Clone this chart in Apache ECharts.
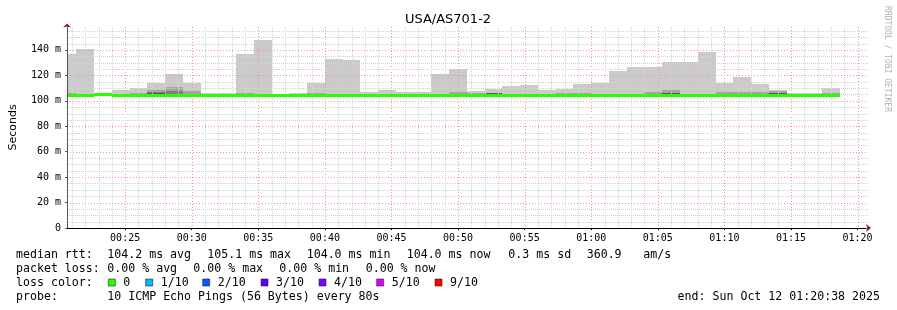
<!DOCTYPE html>
<html>
<head>
<meta charset="utf-8">
<script src="https://cdn.jsdelivr.net/npm/echarts@6.0.0/dist/echarts.min.js"></script>
<style>
html,body{margin:0;padding:0;background:#ffffff;}
#chart{width:897px;height:310px;}
</style>
</head>
<body>
<div id="chart"></div>
<script>
// ---------------- data ----------------
const chartTitle = 'USA/AS701-2';
const windowStart = '00:20:38';
const windowEnd = '01:20:38';
const binStep = 80; // seconds per probe round
const binStarts = ['00:20:00','00:21:20','00:22:40','00:24:00','00:25:20','00:26:40','00:28:00','00:29:20','00:30:40','00:32:00',
  '00:33:20','00:34:40','00:36:00','00:37:20','00:38:40','00:40:00','00:41:20','00:42:40','00:44:00','00:45:20',
  '00:46:40','00:48:00','00:49:20','00:50:40','00:52:00','00:53:20','00:54:40','00:56:00','00:57:20','00:58:40',
  '01:00:00','01:01:20','01:02:40','01:04:00','01:05:20','01:06:40','01:08:00','01:09:20','01:10:40','01:12:00',
  '01:13:20','01:14:40','01:16:00','01:17:20'];
// ms values (smoke = sorted pings, outer -> inner)
const rttMax = [137.1,140.8,106.0,108.5,110.4,114.3,121.1,114.3,106.0,105.8,
  137.0,147.9,105.2,106.4,114.2,133.0,132.1,107.0,108.8,107.0,
  107.0,121.0,125.1,107.8,109.5,111.7,112.5,108.5,109.5,113.5,
  114.2,123.6,126.6,126.6,130.6,130.6,138.7,114.1,119.0,113.3,
  108.5,106.4,106.1,110.1];
const rttP9 = [106.4,105.4,105.5,105.5,106.4,108.5,111.2,108.0,105.3,105.0,
  105.8,105.5,104.8,105.2,106.4,105.5,105.4,105.2,105.4,105.2,
  105.2,105.5,107.0,106.0,106.5,105.6,105.6,105.4,106.3,106.2,
  105.4,105.7,104.8,107.0,108.5,105.7,105.4,107.0,107.0,107.0,
  107.5,105.7,105.5,106.4];
const rttP8 = [103.8,104.5,105.1,104.0,104.0,107.0,107.6,104.0,104.0,104.0,
  104.4,104.4,104.0,104.0,104.0,104.4,104.4,104.0,104.0,104.4,
  104.4,104.0,104.0,104.0,106.0,104.0,104.0,104.0,104.4,104.4,
  104.0,104.0,104.0,104.0,106.5,105.5,104.0,104.4,104.4,104.0,
  106.3,105.5,104.0,104.0];
const rttP7 = [103.8,104.5,105.1,104.0,104.0,106.4,104.0,104.0,104.0,104.0,
  104.4,104.4,104.0,104.0,104.0,104.4,104.4,104.0,104.0,104.4,
  104.4,104.0,104.0,104.0,105.9,104.0,104.0,104.0,104.4,104.4,
  104.0,104.0,104.0,104.0,106.0,105.3,104.0,104.4,104.4,104.0,
  106.0,105.3,104.0,104.0];
const rttMin = [103.3,103.5,103.5,103.5,103.5,103.5,103.5,103.5,103.5,103.5,
  103.5,103.5,103.5,103.5,103.5,103.5,103.5,103.5,103.5,103.5,
  103.5,103.5,103.5,103.5,103.5,103.5,103.5,103.5,103.5,103.5,
  103.5,103.5,103.5,103.5,103.5,103.5,103.5,103.5,103.5,103.5,
  103.5,103.5,103.5,103.5];
const rttMedian = [103.8,104.5,105.1,104.0,104.0,104.0,104.0,104.0,104.0,104.0,
  104.4,104.4,104.0,104.0,104.0,104.4,104.4,104.0,104.0,104.4,
  104.4,104.0,104.0,104.0,104.0,104.0,104.0,104.0,104.4,104.4,
  104.0,104.0,104.0,104.0,104.4,104.4,104.0,104.4,104.4,104.0,
  104.4,104.4,104.0,104.0];
const lossIndex = [0,0,0,0,0,0,0,0,0,0, 0,0,0,0,0,0,0,0,0,0, 0,0,0,0,0,0,0,0,0,0,
  0,0,0,0,0,0,0,0,0,0, 0,0,0,0];
const xTickLabels = ['00:25','00:30','00:35','00:40','00:45','00:50','00:55','01:00','01:05','01:10','01:15','01:20'];
const yTickValues = [0,20,40,60,80,100,120,140];
const yMax = 158;
const lossLegend = ['0','1/10','2/10','3/10','4/10','5/10','9/10'];
const lossColors = ['#26ff00','#00b8ff','#0059ff','#5e00ff','#7e00ff','#dd00ff','#ff0000'];
const statsMedian = ['median rtt:','104.2 ms avg','105.1 ms max','104.0 ms min','104.0 ms now','0.3 ms sd','360.9','am/s'];
const statsLoss = ['packet loss:','0.00 % avg','0.00 % max','0.00 % min','0.00 % now'];
const probeLine = ['probe:','10 ICMP Echo Pings (56 Bytes) every 80s'];
const endText = 'end: Sun Oct 12 01:20:38 2025';
const creditText = 'RRDTOOL / TOBI OETIKER';

// ---------------- helpers ----------------
function toSec(s){ const p = s.split(':').map(Number); return p[0]*3600 + p[1]*60 + (p[2]||0); }
function fmtHM(v){ const h=Math.floor(v/3600), m=Math.floor((v%3600)/60); return String(h).padStart(2,'0')+':'+String(m).padStart(2,'0'); }
const X_MIN = toSec(windowStart), X_MAX = toSec(windowEnd);
const starts = binStarts.map(toSec);
const xMajor = xTickLabels.map(toSec);

function bandData(lo, hi){ return starts.map((s,i)=>[s, s+binStep, lo[i], hi[i]]); }

function renderBand(params, api){
  const cs = params.coordSys;
  const p0 = api.coord([api.value(0), api.value(3)]);
  const p1 = api.coord([api.value(1), api.value(2)]);
  const x0 = Math.round(p0[0]), x1 = Math.round(p1[0]);
  const y0 = Math.round(p0[1]), y1 = Math.round(p1[1]);
  const r = echarts.graphic.clipRectByRect({x:x0, y:y0, width:x1-x0, height:Math.max(y1-y0,0)},
    {x:cs.x, y:cs.y, width:cs.width, height:cs.height});
  if(!r) return;
  return {type:'rect', shape:r, style:{fill: api.visual('color')}};
}
function renderMedian(params, api){
  const cs = params.coordSys;
  const p0 = api.coord([api.value(0), api.value(2)]);
  const p1 = api.coord([api.value(1), api.value(2)]);
  const x0 = Math.round(p0[0]), x1 = Math.round(p1[0]);
  const yc = p0[1];
  const r = echarts.graphic.clipRectByRect({x:x0, y:Math.round(yc-1.5), width:x1-x0, height:3},
    {x:cs.x, y:cs.y, width:cs.width, height:cs.height});
  if(!r) return;
  return {type:'rect', shape:r, style:{fill: lossColors[api.value(3)]}};
}
// grid lines (drawn through the axes' scales)
const vGridData = [];
for(let t = Math.ceil(X_MIN/60)*60; t <= X_MAX; t += 60){ vGridData.push([t, (t%300===0)?1:0]); }
const hGridData = [];
for(let v = 5; v < yMax; v += 5){ hGridData.push([X_MIN, v, (v%20===0)?1:0]); }
const minorGrid = {stroke:'#d2d2d2', lineWidth:1, lineDash:[1,1]};
const majorGrid = {stroke:'#ff9090', lineWidth:1, lineDash:[1,2]};
function renderVGrid(params, api){
  const cs = params.coordSys;
  const x = Math.round(api.coord([api.value(0), 0])[0]) + 0.5;
  return {type:'line', shape:{x1:x, y1:cs.y, x2:x, y2:cs.y+cs.height},
    style:Object.assign({}, api.value(1) ? majorGrid : minorGrid)};
}
function renderHGrid(params, api){
  const cs = params.coordSys;
  const y = Math.round(api.coord([api.value(0), api.value(1)])[1]) + 0.5;
  return {type:'line', shape:{x1:cs.x, y1:y, x2:cs.x+cs.width+2, y2:y},
    style:Object.assign({}, api.value(2) ? majorGrid : minorGrid)};
}

// ---------------- chart ----------------
const chart = echarts.init(document.getElementById('chart'), null, {renderer:'canvas', width:897, height:310});
const mono = '"DejaVu Sans Mono", monospace';
const sans = '"DejaVu Sans", sans-serif';
const legendSize = 11.6;

function txt(text, x, y, extra){
  return {type:'text', x:x, y:y, silent:true,
    style:Object.assign({text:text, fill:'#000', fontFamily:mono, fontSize:legendSize,
      align:'left', verticalAlign:'middle', textAlign:'left', textVerticalAlign:'middle'}, extra||{})};
}
const lineY = [255, 269, 283, 297];
const line1X = [16, 107.3, 207.3, 306.7, 406.7, 508.3, 586.7, 643.3];
const line2X = [16, 107.3, 193.3, 279.3, 365.7];
const boxX = [108.3, 145.7, 202.7, 261, 319, 376.7, 435];
const graphics = [];
graphics.push(txt(chartTitle, 448, 19.4, {fontFamily:sans, fontSize:13, align:'center', textAlign:'center'}));
statsMedian.forEach((s,i)=>graphics.push(txt(s, line1X[i], lineY[0])));
statsLoss.forEach((s,i)=>graphics.push(txt(s, line2X[i], lineY[1])));
graphics.push(txt('loss color:', 16, lineY[2]));
lossLegend.forEach((s,i)=>{
  graphics.push({type:'rect', silent:true, shape:{x:boxX[i], y:lineY[2]-4, width:7, height:7},
    style:{fill:lossColors[i], stroke:'#222', lineWidth:0.6}});
  graphics.push(txt(s, boxX[i]+15, lineY[2]));
});
graphics.push(txt(probeLine[0], 16, lineY[3]));
graphics.push(txt(probeLine[1], 107.3, lineY[3]));
graphics.push(txt(endText, 880, lineY[3], {align:'right', textAlign:'right'}));
graphics.push({type:'text', x:887, y:59, rotation:-Math.PI/2, silent:true,
  style:{text:creditText, fill:'#b0b0b0', fontFamily:mono, fontSize:8, align:'center', verticalAlign:'middle', textAlign:'center', textVerticalAlign:'middle'}});

const option = {
  animation:false,
  backgroundColor:'#ffffff',
  grid:{left:66, right:31, top:27, bottom:82, containLabel:false},
  xAxis:[{
    type:'value', min:X_MIN, max:X_MAX, position:'bottom', z:6,
    axisLine:{show:true, lineStyle:{color:'#000', width:1}},
    axisTick:{show:true, customValues:xMajor, length:2, lineStyle:{color:'#000'}},
    axisLabel:{customValues:xMajor, formatter:fmtHM, fontFamily:mono, fontSize:10, color:'#000', margin:5},
    splitLine:{show:false}
  },{
    type:'value', min:X_MIN, max:X_MAX, position:'bottom', offset:0, z:5,
    axisLine:{show:true, symbol:['none','arrow'], symbolSize:[6,5], symbolOffset:[0,5], lineStyle:{color:'#8b1a1a', width:1}},
    axisTick:{show:false}, axisLabel:{show:false}, splitLine:{show:false}
  }],
  yAxis:[{
    type:'value', min:0, max:yMax, position:'left', z:6,
    name:'Seconds', nameLocation:'middle', nameGap:48, nameRotate:90,
    nameTextStyle:{fontFamily:sans, fontSize:11, color:'#000'},
    axisLine:{show:true, lineStyle:{color:'#555', width:1}},
    axisTick:{show:true, customValues:yTickValues, length:2, lineStyle:{color:'#555'}},
    axisLabel:{customValues:yTickValues, formatter:v=> v===0 ? '0' : v+' m', fontFamily:mono, fontSize:10, color:'#000', margin:6},
    splitLine:{show:false}
  },{
    type:'value', min:0, max:yMax, position:'left', offset:0, z:5,
    axisLine:{show:true, symbol:['none','arrow'], symbolSize:[6,4], symbolOffset:[0,3.5], lineStyle:{color:'#8b1a1a', width:1}},
    axisTick:{show:false}, axisLabel:{show:false}, splitLine:{show:false}
  }],
  series:[
    {type:'custom', name:'ping1-10', z:2, renderItem:renderBand, itemStyle:{color:'#cacaca'}, encode:{x:[0,1], y:[2,3]}, data:bandData(rttMin, rttMax)},
    {type:'custom', name:'ping2-9', z:2, renderItem:renderBand, itemStyle:{color:'#a4a4a4'}, encode:{x:[0,1], y:[2,3]}, data:bandData(rttMin, rttP9)},
    {type:'custom', name:'ping3-8', z:2, renderItem:renderBand, itemStyle:{color:'#7e7e7e'}, encode:{x:[0,1], y:[2,3]}, data:bandData(rttMin, rttP8)},
    {type:'custom', name:'ping4-7', z:2, renderItem:renderBand, itemStyle:{color:'#585858'}, encode:{x:[0,1], y:[2,3]}, data:bandData(rttMin, rttP7)},
    {type:'custom', name:'vgrid', z:3, silent:true, renderItem:renderVGrid, encode:{x:0, y:1}, data:vGridData},
    {type:'custom', name:'hgrid', z:3, silent:true, renderItem:renderHGrid, encode:{x:0, y:1}, data:hGridData},
    {type:'custom', name:'median rtt', z:4, renderItem:renderMedian, encode:{x:[0,1], y:2},
      data:starts.map((s,i)=>[s, s+binStep, rttMedian[i], lossIndex[i]])}
  ],
  graphic:graphics
};
chart.setOption(option);
</script>
</body>
</html>
